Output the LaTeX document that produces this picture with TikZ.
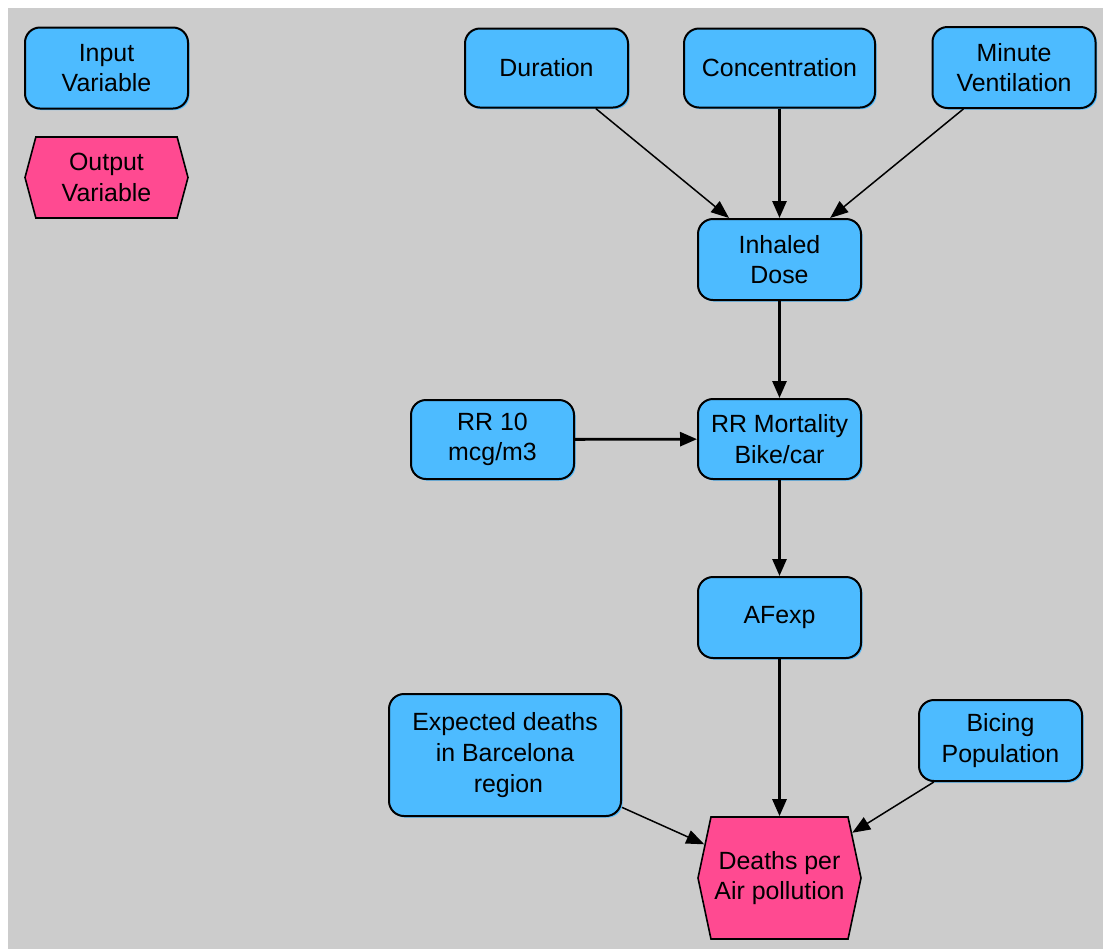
\documentclass[tikz,border=0pt]{standalone}
\usepackage{fontspec}
\setmainfont{Liberation Sans}
\usetikzlibrary{arrows.meta,shapes.symbols,shadows}
\definecolor{bg}{HTML}{CCCCCC}
\definecolor{inblue}{HTML}{4DBBFF}
\definecolor{outpink}{HTML}{FF4A91}
\begin{document}
\begin{tikzpicture}[x=0.5pt,y=-0.5pt,
  every node/.style={font=\fontsize{12.45}{15.3}\selectfont, align=center, inner sep=0pt},
  invar/.style={draw=black, line width=1pt, fill=inblue, rounded corners=7.5pt,
    minimum width=81.5pt, minimum height=40.5pt,
    general shadow={fill=inblue, shadow xshift=0.8pt, shadow yshift=-0.8pt}},
  outvar/.style={draw=black, line width=0.8pt, fill=outpink, signal, signal to=east and west,
    minimum width=81.5pt, minimum height=40.5pt, signal pointer angle=150},
  thinarrow/.style={draw, line width=0.75pt, -{Triangle[length=9pt,width=7pt]}},
  thickarrow/.style={draw, line width=1.4pt, -{Triangle[length=8.5pt,width=7pt]}}
]
\useasboundingbox (0,0) rectangle (1103,949);
\fill[bg] (8,8) rectangle (1103,949);

\node[invar] (inputleg) at (106.5,68) {Input\\Variable};
\node[outvar] (outputleg) at (106.5,177.5) {Output\\Variable};

\node[invar, minimum height=39.5pt] (dur) at (546.5,68) {Duration};
\node[invar, minimum width=95.5pt, minimum height=39.5pt] (conc) at (779.5,68) {Concentration};
\node[invar] (minv) at (1014,67.5) {Minute\\Ventilation};
\node[invar] (dose) at (779.5,259.5) {Inhaled\\Dose};
\node[invar, minimum height=39.5pt] (rr10) at (492.5,439.5) {RR 10\\mcg/m3};
\node[invar, minimum height=40pt] (rrm) at (779.5,439) {RR Mortality\\Bike/car};
\node[invar] (afexp) at (779.5,617.5) {AFexp};
\node[invar, minimum width=116pt, minimum height=61pt] (exp) at (505,755) {Expected deaths\\in Barcelona\\\ region};
\node[invar] (bicing) at (1000.5,740.5) {Bicing\\Population};
\node[outvar, minimum height=61pt, signal pointer angle=156] (deaths) at (779.5,878) {Deaths per\\Air pollution};

\draw[thinarrow] (dur) -- (dose);
\draw[thickarrow] (conc) -- (dose);
\draw[thinarrow] (minv) -- (dose);
\draw[thickarrow] (dose) -- (rrm);
\draw[thickarrow] (rr10) -- (rrm);
\draw[thickarrow] (rrm) -- (afexp);
\draw[thickarrow] (afexp) -- (deaths);
\draw[thinarrow] (exp) -- (deaths);
\draw[thinarrow] (bicing) -- (deaths);
\end{tikzpicture}
\end{document}
